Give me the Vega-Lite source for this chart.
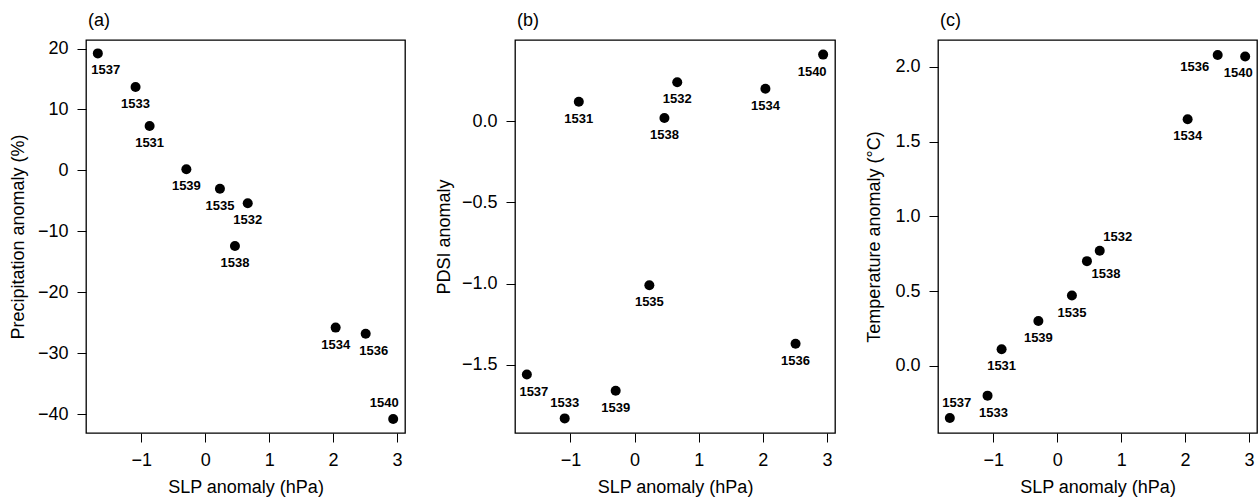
{
  "$schema": "https://vega.github.io/schema/vega-lite/v6.json",
  "padding": {"left": 8, "top": 10, "right": 0, "bottom": 0},
  "background": "white",
  "spacing": 28,
  "datasets": {
    "years": [
      {"year": "1531", "slp": -0.87, "precip": 7.3, "pdsi": 0.12, "temp": 0.11},
      {"year": "1532", "slp": 0.665, "precip": -5.4, "pdsi": 0.24, "temp": 0.77},
      {"year": "1533", "slp": -1.09, "precip": 13.7, "pdsi": -1.83, "temp": -0.2},
      {"year": "1534", "slp": 2.04, "precip": -25.8, "pdsi": 0.2, "temp": 1.65},
      {"year": "1535", "slp": 0.23, "precip": -3.0, "pdsi": -1.01, "temp": 0.47},
      {"year": "1536", "slp": 2.51, "precip": -26.8, "pdsi": -1.37, "temp": 2.08},
      {"year": "1537", "slp": -1.68, "precip": 19.2, "pdsi": -1.56, "temp": -0.35},
      {"year": "1538", "slp": 0.465, "precip": -12.4, "pdsi": 0.02, "temp": 0.7},
      {"year": "1539", "slp": -0.295, "precip": 0.2, "pdsi": -1.66, "temp": 0.3},
      {"year": "1540", "slp": 2.94, "precip": -40.8, "pdsi": 0.41, "temp": 2.07}
    ]
  },
  "hconcat": [
    {
      "width": 319,
      "height": 393,
      "data": {"name": "years"},
      "title": {"text": "(a)", "anchor": "start", "frame": "group", "fontSize": 18, "fontWeight": "normal", "offset": 10, "dx": 2},
      "encoding": {
        "x": {"field": "slp", "type": "quantitative", "scale": {"domain": [-1.865, 3.125], "nice": false, "zero": false},
              "axis": {"values": [-1, 0, 1, 2, 3], "title": "SLP anomaly (hPa)"}},
        "y": {"field": "precip", "type": "quantitative", "scale": {"domain": [-43.1, 21.4], "nice": false, "zero": false},
              "axis": {"values": [-40, -30, -20, -10, 0, 10, 20], "title": "Precipitation anomaly (%)", "minExtent": 50, "maxExtent": 50, "titlePadding": 9}}
      },
      "layer": [
        {"mark": {"type": "point", "filled": true, "shape": "circle", "size": 100, "color": "black", "opacity": 1}},
        {"transform": [{"filter": {"field": "year", "oneOf": ["1533", "1531", "1539", "1535", "1532", "1538", "1534"]}}],
         "mark": {"type": "text", "dy": 17, "fontSize": 13, "fontWeight": "bold", "color": "black"},
         "encoding": {"text": {"field": "year", "type": "nominal"}}},
        {"transform": [{"filter": {"field": "year", "oneOf": ["1537", "1536"]}}],
         "mark": {"type": "text", "dy": 17, "dx": 8, "fontSize": 13, "fontWeight": "bold", "color": "black"},
         "encoding": {"text": {"field": "year", "type": "nominal"}}},
        {"transform": [{"filter": {"field": "year", "oneOf": ["1540"]}}],
         "mark": {"type": "text", "dy": -16, "dx": -9, "fontSize": 13, "fontWeight": "bold", "color": "black"},
         "encoding": {"text": {"field": "year", "type": "nominal"}}}
      ]
    },
    {
      "width": 320,
      "height": 393,
      "data": {"name": "years"},
      "title": {"text": "(b)", "anchor": "start", "frame": "group", "fontSize": 18, "fontWeight": "normal", "offset": 10, "dx": 2},
      "encoding": {
        "x": {"field": "slp", "type": "quantitative", "scale": {"domain": [-1.865, 3.125], "nice": false, "zero": false},
              "axis": {"values": [-1, 0, 1, 2, 3], "title": "SLP anomaly (hPa)"}},
        "y": {"field": "pdsi", "type": "quantitative", "scale": {"domain": [-1.92, 0.5], "nice": false, "zero": false},
              "axis": {"values": [-1.5, -1, -0.5, 0], "format": ".1f", "title": "PDSI anomaly", "minExtent": 53, "maxExtent": 53, "titlePadding": 9}}
      },
      "layer": [
        {"mark": {"type": "point", "filled": true, "shape": "circle", "size": 100, "color": "black", "opacity": 1}},
        {"transform": [{"filter": {"field": "year", "oneOf": ["1531", "1538", "1532", "1534", "1535", "1536", "1539"]}}],
         "mark": {"type": "text", "dy": 17, "fontSize": 13, "fontWeight": "bold", "color": "black"},
         "encoding": {"text": {"field": "year", "type": "nominal"}}},
        {"transform": [{"filter": {"field": "year", "oneOf": ["1540"]}}],
         "mark": {"type": "text", "dy": 17, "dx": -11, "fontSize": 13, "fontWeight": "bold", "color": "black"},
         "encoding": {"text": {"field": "year", "type": "nominal"}}},
        {"transform": [{"filter": {"field": "year", "oneOf": ["1537"]}}],
         "mark": {"type": "text", "dy": 17, "dx": 7, "fontSize": 13, "fontWeight": "bold", "color": "black"},
         "encoding": {"text": {"field": "year", "type": "nominal"}}},
        {"transform": [{"filter": {"field": "year", "oneOf": ["1533"]}}],
         "mark": {"type": "text", "dy": -15, "fontSize": 13, "fontWeight": "bold", "color": "black"},
         "encoding": {"text": {"field": "year", "type": "nominal"}}}
      ]
    },
    {
      "width": 319,
      "height": 393,
      "data": {"name": "years"},
      "title": {"text": "(c)", "anchor": "start", "frame": "group", "fontSize": 18, "fontWeight": "normal", "offset": 10, "dx": 2},
      "encoding": {
        "x": {"field": "slp", "type": "quantitative", "scale": {"domain": [-1.865, 3.125], "nice": false, "zero": false},
              "axis": {"values": [-1, 0, 1, 2, 3], "title": "SLP anomaly (hPa)"}},
        "y": {"field": "temp", "type": "quantitative", "scale": {"domain": [-0.45, 2.18], "nice": false, "zero": false},
              "axis": {"values": [0, 0.5, 1, 1.5, 2], "format": ".1f", "title": "Temperature anomaly (°C)", "minExtent": 46, "maxExtent": 46, "titlePadding": 9}}
      },
      "layer": [
        {"mark": {"type": "point", "filled": true, "shape": "circle", "size": 100, "color": "black", "opacity": 1}},
        {"transform": [{"filter": {"field": "year", "oneOf": ["1534", "1535", "1539", "1531"]}}],
         "mark": {"type": "text", "dy": 17, "fontSize": 13, "fontWeight": "bold", "color": "black"},
         "encoding": {"text": {"field": "year", "type": "nominal"}}},
        {"transform": [{"filter": {"field": "year", "oneOf": ["1533"]}}],
         "mark": {"type": "text", "dy": 17, "dx": 6, "fontSize": 13, "fontWeight": "bold", "color": "black"},
         "encoding": {"text": {"field": "year", "type": "nominal"}}},
        {"transform": [{"filter": {"field": "year", "oneOf": ["1540"]}}],
         "mark": {"type": "text", "dy": 17, "dx": -7, "fontSize": 13, "fontWeight": "bold", "color": "black"},
         "encoding": {"text": {"field": "year", "type": "nominal"}}},
        {"transform": [{"filter": {"field": "year", "oneOf": ["1536"]}}],
         "mark": {"type": "text", "dy": 12, "dx": -23, "fontSize": 13, "fontWeight": "bold", "color": "black"},
         "encoding": {"text": {"field": "year", "type": "nominal"}}},
        {"transform": [{"filter": {"field": "year", "oneOf": ["1532"]}}],
         "mark": {"type": "text", "dy": -14, "dx": 18, "fontSize": 13, "fontWeight": "bold", "color": "black"},
         "encoding": {"text": {"field": "year", "type": "nominal"}}},
        {"transform": [{"filter": {"field": "year", "oneOf": ["1538"]}}],
         "mark": {"type": "text", "dy": 13, "dx": 19, "fontSize": 13, "fontWeight": "bold", "color": "black"},
         "encoding": {"text": {"field": "year", "type": "nominal"}}},
        {"transform": [{"filter": {"field": "year", "oneOf": ["1537"]}}],
         "mark": {"type": "text", "dy": -15, "dx": 7, "fontSize": 13, "fontWeight": "bold", "color": "black"},
         "encoding": {"text": {"field": "year", "type": "nominal"}}}
      ]
    }
  ],
  "config": {
    "font": "Liberation Sans",
    "view": {"stroke": "black", "strokeWidth": 1.3, "fill": null},
    "axis": {
      "domain": false,
      "grid": false,
      "ticks": true,
      "tickColor": "black",
      "tickWidth": 1,
      "tickSize": 9,
      "labelPadding": 9,
      "labelFontSize": 18,
      "labelColor": "black",
      "labelFont": "Liberation Sans",
      "titleFontSize": 18,
      "titleFontWeight": "normal",
      "titleColor": "black",
      "titleFont": "Liberation Sans"
    },
    "axisX": {"titlePadding": 9, "labelFlush": false},
    "axisY": {"labelFlush": false},
    "title": {"color": "black", "font": "Liberation Sans"}
  }
}
